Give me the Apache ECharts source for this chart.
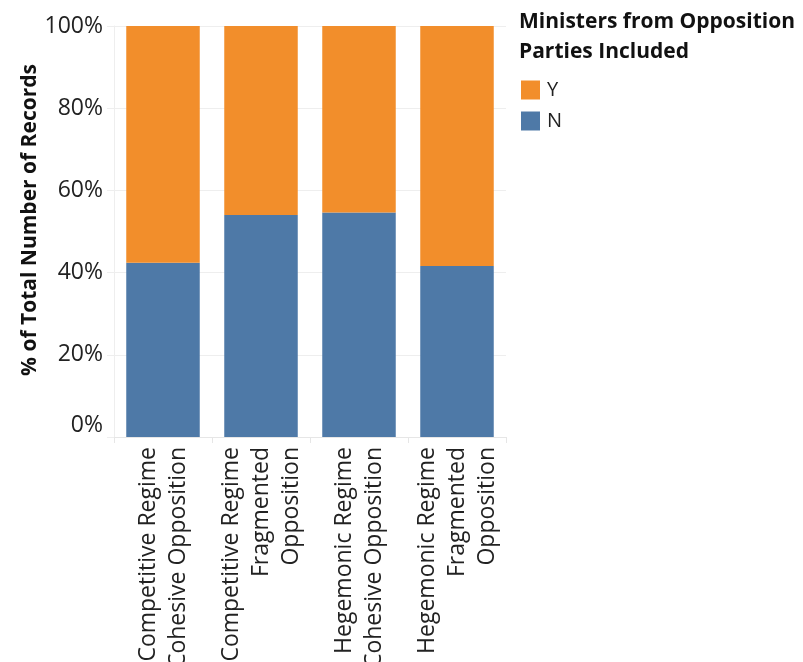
<!DOCTYPE html>
<html>
<head>
<meta charset="utf-8">
<script src="https://cdn.jsdelivr.net/npm/echarts@6/dist/echarts.min.js"></script>
<style>
  html, body { margin: 0; padding: 0; background: #fff; }
  #chart { width: 803px; height: 662px; }
</style>
</head>
<body>
<div id="chart"></div>
<script>
// Regime / opposition types (one stacked bar each)
const categories = [
  'Competitive Regime\nCohesive Opposition',
  'Competitive Regime\nFragmented\nOpposition',
  'Hegemonic Regime\nCohesive Opposition',
  'Hegemonic Regime\nFragmented\nOpposition'
];
// Share of records (%) with / without opposition ministers
const shareN = [42.4, 54.0, 54.6, 41.6];
const shareY = [57.6, 46.0, 45.4, 58.4];
const yTicks = [0, 20, 40, 60, 80, 100];

const FONT = '"Open Sans", "Noto Sans", sans-serif';
const chart = echarts.init(document.getElementById('chart'), null, { renderer: 'canvas' });

chart.setOption({
  animation: false,
  backgroundColor: '#ffffff',
  textStyle: { fontFamily: FONT },
  title: {
    text: 'Ministers from Opposition\nParties Included',
    left: 519,
    top: 7,
    padding: 0,
    textStyle: { fontFamily: FONT, fontSize: 21, fontWeight: 'bold', color: '#111', lineHeight: 30 }
  },
  legend: {
    data: ['Y', 'N'],
    orient: 'vertical',
    left: 521,
    top: 80,
    padding: 0,
    icon: 'rect',
    itemWidth: 19,
    itemHeight: 19,
    itemGap: 11,
    textStyle: { fontFamily: FONT, fontSize: 20, color: '#222', padding: [0, 0, 0, 2] }
  },
  grid: {
    left: 114, right: 297, top: 26, bottom: 225,
    containLabel: false,
    outerBoundsMode: 'none'
  },
  xAxis: {
    type: 'category',
    data: categories,
    boundaryGap: true,
    axisLine: { show: true, lineStyle: { color: '#e6e6e6', width: 1 } },
    axisTick: { show: true, length: 6, alignWithLabel: false, lineStyle: { color: '#e6e6e6' } },
    axisLabel: {
      interval: 0,
      rotate: 90,
      margin: 10,
      fontFamily: FONT,
      fontSize: 23,
      lineHeight: 30,
      color: '#222'
    }
  },
  yAxis: {
    type: 'value',
    min: yTicks[0],
    max: yTicks[yTicks.length - 1],
    interval: 20,
    axisLine: { show: true, lineStyle: { color: '#eeeeee' } },
    axisTick: { show: true, length: 7, lineStyle: { color: '#eeeeee' } },
    splitLine: { show: true, lineStyle: { color: '#eeeeee', width: 1 } },
    axisLabel: {
      formatter: '{value}%',
      margin: 11,
      fontFamily: FONT,
      fontSize: 23,
      color: '#222',
      verticalAlignMinLabel: 'bottom'
    }
  },
  graphic: [{
    type: 'text',
    x: 30,
    y: 220,
    rotation: Math.PI / 2,
    style: {
      text: '% of Total Number of Records',
      font: 'bold 21px ' + FONT,
      fill: '#111',
      align: 'center',
      verticalAlign: 'middle',
      textAlign: 'center',
      textVerticalAlign: 'middle'
    }
  }],
  series: [
    {
      name: 'N',
      type: 'bar',
      stack: 'share',
      barWidth: '75%',
      data: shareN,
      itemStyle: { color: '#4E79A7' }
    },
    {
      name: 'Y',
      type: 'bar',
      stack: 'share',
      barWidth: '75%',
      data: shareY,
      itemStyle: { color: '#F28E2B' }
    }
  ]
});
</script>
</body>
</html>
